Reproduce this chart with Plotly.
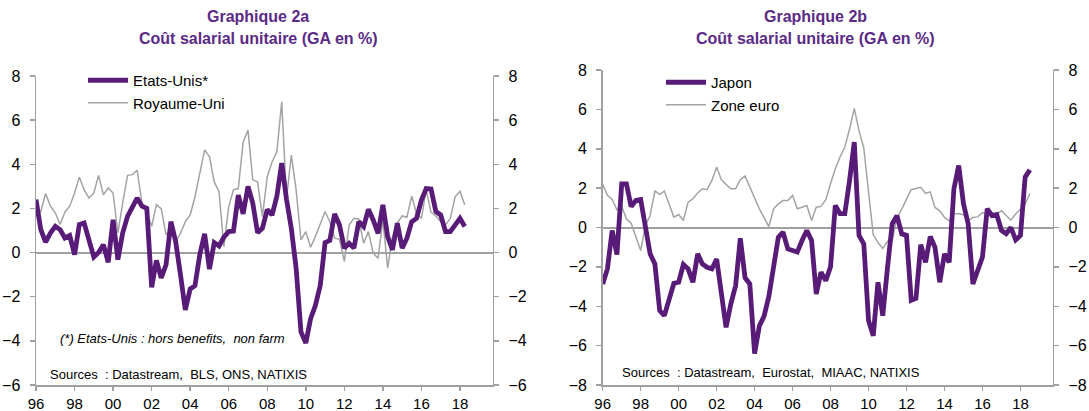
import plotly.graph_objects as go
import pandas as pd

# ---------------- data ----------------
# quarterly, year-on-year % change, first quarter 1996Q1
quarters_a = pd.date_range("1996-01-01", periods=90, freq="QS")
quarters_b = pd.date_range("1996-01-01", periods=91, freq="QS")

etats_unis = [2.4, 1.04, 0.47, 0.89, 1.19, 1.04, 0.66, 0.77, -0.09, 1.27,
              1.34, 0.59, -0.2, 0.0, 0.36, -0.44, 1.49, -0.32, 0.89, 1.64,
              2.1, 2.47, 2.1, 2.0, -1.58, -0.35, -1.15, -0.55, 1.4, 0.5,
              -1.0, -2.6, -1.65, -1.5, -0.1, 0.85, -0.75, 0.45, 0.3, 0.7,
              0.95, 0.97, 2.6, 1.75, 3.0, 2.25, 0.9, 1.1, 1.95, 1.7,
              2.55, 4.05, 2.4, 1.1, -0.7, -3.6, -4.1, -3.0, -2.4, -1.5,
              0.45, 0.55, 1.75, 1.25, 0.2, 0.42, 0.2, 1.4, 1.18, 1.96,
              1.48, 0.87, 2.16, 0.72, 0.12, 1.33, 0.2, 0.65, 1.4, 1.55,
              2.38, 2.9, 2.88, 1.86, 1.7, 0.95, 0.95, 1.25, 1.55, 1.18]

royaume_uni = [1.64, 1.87, 2.67, 2.1, 1.8, 1.27, 1.83, 2.1, 2.7, 3.42,
               2.85, 2.47, 2.7, 3.5, 2.62, 2.93, 2.7, 0.89, 2.25, 3.5,
               3.53, 3.73, 2.25, 1.8, 1.19, 2.17, 1.99, 0.81, 1.07, 0.51,
               0.87, 1.4, 1.7, 2.53, 3.59, 4.65, 4.34, 3.2, 2.76, 0.27,
               2.08, 2.84, 2.9, 5.0, 5.55, 3.3, 3.2, 1.63, 3.44, 4.1,
               4.57, 6.83, 2.46, 4.42, 2.84, 0.57, 0.95, 0.24, 0.72, 1.25,
               1.86, 1.4, 0.65, 0.6, -0.4, 1.25, 1.55, 1.52, 0.42, 0.95,
               -0.03, -0.26, 1.48, -0.71, 0.72, 1.34, 1.66, 1.6, 2.56, 1.76,
               1.55, 2.84, 1.82, 1.66, 1.4, 1.25, 1.55, 2.53, 2.78, 2.17]

japon = [-2.87, -2.1, -0.15, -1.37, 2.22, 2.22, 1.07, 1.37, 1.42, -0.15,
         -1.34, -1.85, -4.22, -4.48, -3.71, -2.83, -2.78, -1.88, -2.1, -2.78,
         -1.34, -1.85, -2.02, -2.1, -1.6, -3.38, -5.07, -3.88, -2.95, -0.55,
         -2.55, -2.87, -6.4, -5.0, -4.5, -3.5, -2.0, -0.5, -0.24, -1.09,
         -1.17, -1.25, -0.66, -0.15, -0.66, -3.38, -2.27, -2.7, -2.0, 1.12,
         0.7, 0.7, 2.39, 4.34, -0.4, -0.83, -4.73, -5.5, -2.78, -4.48,
         -2.02, 0.19, 0.6, -0.32, -0.4, -3.7, -3.6, -0.87, -1.77, -0.46,
         -1.0, -2.78, -1.34, -1.77, 1.97, 3.15, 1.2, 0.19, -2.87, -2.2,
         -1.5, 0.95, 0.61, 0.66, -0.15, -0.32, 0.0, -0.63, -0.4, 2.56,
         2.93]

zone_euro = [2.19, 1.63, 1.42, 0.9, 1.07, 0.44, 0.22, -0.49, -1.17, 0.1,
             0.61, 1.85, 1.68, 1.85, 1.2, 0.53, 0.66, 0.36, 1.29, 1.46,
             1.75, 1.97, 1.92, 2.39, 3.07, 2.43, 2.19, 1.97, 1.97, 2.43,
             2.62, 2.05, 1.54, 0.95, 0.5, 0.05, 0.95, 1.2, 1.37, 1.37,
             1.63, 0.95, 1.03, 1.12, 0.36, 1.03, 1.07, 1.41, 2.22, 2.99,
             3.58, 4.09, 5.0, 6.05, 4.92, 4.05, 1.8, -0.37, -0.76, -1.07,
             -0.7, -0.66, 0.5, 0.93, 1.44, 1.92, 1.98, 2.04, 1.73, 1.81,
             1.02, 0.85, 0.51, 0.34, 0.68, 0.71, 0.64, 0.34, 0.51, 0.54,
             0.76, 0.64, 0.73, 0.68, 0.85, 0.59, 0.37, 0.68, 0.93, 1.19,
             1.73]

titles = ["Graphique 2a", "Graphique 2b"]
subtitle = "Coût salarial unitaire (GA en %)"
note_a = "(*) Etats-Unis : hors benefits,  non farm"
source_a = "Sources  : Datastream,  BLS, ONS, NATIXIS"
source_b = "Sources  : Datastream,  Eurostat,  MIAAC, NATIXIS"
y_ticks_a = [-6, -4, -2, 0, 2, 4, 6, 8]
y_ticks_b = [-8, -6, -4, -2, 0, 2, 4, 6, 8]

# ---------------- style ----------------
W, H = 1089, 411
PURPLE = "#581c78"
TITLE_PURPLE = "#5b2a86"
GREY = "#a3a3a3"
AXIS = "#a0a0a0"
FONT = "Arial, Liberation Sans, sans-serif"

def px_x(p):
    return p / W

def px_y(p):
    return 1 - p / H

fig = go.Figure()

# chart a
fig.add_trace(go.Scatter(x=quarters_a, y=etats_unis, name="Etats-Unis*", mode="lines",
                         line=dict(color=PURPLE, width=4.8), xaxis="x", yaxis="y2",
                         legend="legend", legendgroup="a1"))
fig.add_trace(go.Scatter(x=quarters_a, y=royaume_uni, name="Royaume-Uni", mode="lines",
                         line=dict(color=GREY, width=1.5), xaxis="x", yaxis="y",
                         legend="legend", legendgroup="a2"))
# chart b
fig.add_trace(go.Scatter(x=quarters_b, y=japon, name="Japon", mode="lines",
                         line=dict(color=PURPLE, width=4.8), xaxis="x2", yaxis="y4",
                         legend="legend2", legendgroup="b1"))
fig.add_trace(go.Scatter(x=quarters_b, y=zone_euro, name="Zone euro", mode="lines",
                         line=dict(color=GREY, width=1.5), xaxis="x2", yaxis="y3",
                         legend="legend2", legendgroup="b2"))

xdom_a = [px_x(36), px_x(492.7)]
xdom_b = [px_x(602.7), px_x(1052.7)]
ydom_a = [px_y(385), px_y(76)]
ydom_b = [px_y(385), px_y(70)]

tickfont = dict(family=FONT, size=16, color="#000000")
xtickfont = dict(family=FONT, size=15, color="#000000")
xrange = ["1996-01-01", "2019-09-13"]

def xaxis(domain, anchor):
    return dict(domain=domain, anchor=anchor, type="date", range=xrange,
                tick0="1996-01-01", dtick="M24", tickformat="%y",
                showline=True, linecolor=AXIS, linewidth=1.5,
                ticks="outside", ticklen=4, tickcolor=AXIS, tickwidth=1.5,
                showgrid=False, zeroline=False, tickfont=xtickfont,
                ticklabelstandoff=0, automargin=False, fixedrange=True)

def yaxis(domain, anchor, rng, vals, side="left", overlay=None):
    d = dict(domain=domain, anchor=anchor, range=rng, tickvals=vals,
             side=side, showline=True, linecolor=AXIS, linewidth=1.5,
             ticks="outside", ticklen=5, tickcolor=AXIS, tickwidth=1.5,
             showgrid=False, tickfont=tickfont, ticklabelstandoff=6,
             zeroline=(overlay is None), zerolinecolor=AXIS, zerolinewidth=2,
             automargin=False, fixedrange=True)
    if overlay:
        d["overlaying"] = overlay
    return d

fig.update_layout(
    template="none",
    width=W, height=H, autosize=False,
    margin=dict(l=0, r=0, t=0, b=0, pad=0),
    paper_bgcolor="white", plot_bgcolor="white",
    font=dict(family=FONT, size=14, color="#000000"),
    xaxis=xaxis(xdom_a, "y"),
    yaxis=yaxis(ydom_a, "x", [-6, 8], y_ticks_a),
    yaxis2=yaxis(ydom_a, "x", [-6, 8], y_ticks_a, side="right", overlay="y"),
    xaxis2=xaxis(xdom_b, "y3"),
    yaxis3=yaxis(ydom_b, "x2", [-8, 8], y_ticks_b),
    yaxis4=yaxis(ydom_b, "x2", [-8, 8], y_ticks_b, side="right", overlay="y3"),
    showlegend=True,
    legend=dict(x=px_x(83), y=px_y(64), xanchor="left", yanchor="top",
                bgcolor="rgba(0,0,0,0)", font=dict(family=FONT, size=15),
                itemwidth=40, tracegroupgap=13, traceorder="normal"),
    legend2=dict(x=px_x(661), y=px_y(66), xanchor="left", yanchor="top",
                 bgcolor="rgba(0,0,0,0)", font=dict(family=FONT, size=15),
                 itemwidth=40, tracegroupgap=13, traceorder="normal"),
)

ann = []
for cx, t in zip([258, 815], titles):
    ann.append(dict(x=px_x(cx), y=px_y(17), text="<b>%s</b>" % t, showarrow=False,
                    xref="paper", yref="paper", xanchor="center", yanchor="middle",
                    font=dict(family=FONT, size=16, color=TITLE_PURPLE)))
    ann.append(dict(x=px_x(cx), y=px_y(38), text="<b>%s</b>" % subtitle, showarrow=False,
                    xref="paper", yref="paper", xanchor="center", yanchor="middle",
                    font=dict(family=FONT, size=16, color=TITLE_PURPLE)))
ann.append(dict(x=px_x(58), y=px_y(338), text="<i>%s</i>" % note_a, showarrow=False,
                xref="paper", yref="paper", xanchor="left", yanchor="middle",
                font=dict(family=FONT, size=13)))
ann.append(dict(x=px_x(48), y=px_y(374), text=source_a, showarrow=False,
                xref="paper", yref="paper", xanchor="left", yanchor="middle",
                font=dict(family=FONT, size=13)))
ann.append(dict(x=px_x(620), y=px_y(372), text=source_b, showarrow=False,
                xref="paper", yref="paper", xanchor="left", yanchor="middle",
                font=dict(family=FONT, size=13)))
fig.update_layout(annotations=ann)

fig.write_html("out.html",
               config={"displayModeBar": False, "staticPlot": True},
               post_script="document.body.style.margin='0';document.body.style.padding='0';"
                           "document.body.style.overflow='hidden';")
